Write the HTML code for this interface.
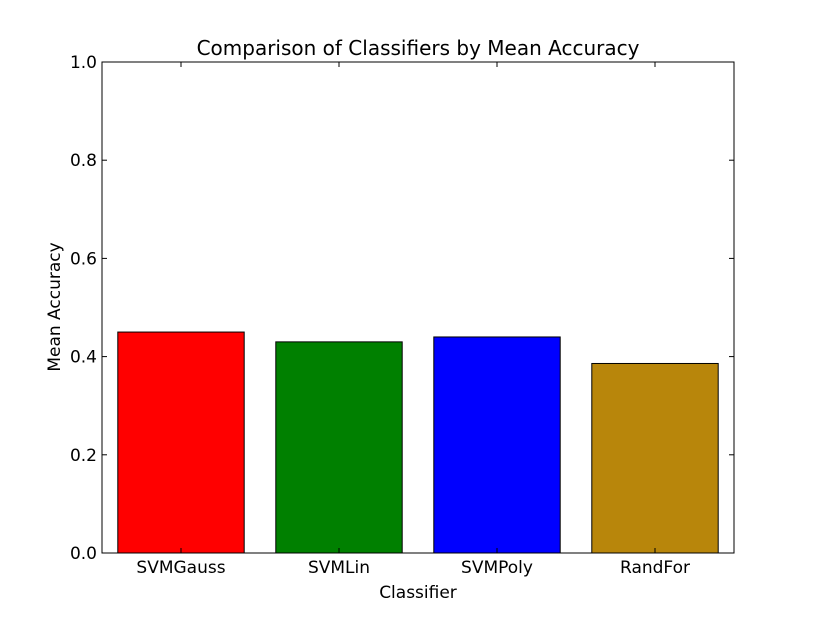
<!DOCTYPE html>
<html><head><meta charset="utf-8"><style>
body{margin:0;background:#fff;}
svg text{font-family:"DejaVu Sans","Liberation Sans",sans-serif;}
</style></head><body>
<svg id="chart" width="815" height="615" xmlns="http://www.w3.org/2000/svg">
<rect width="815" height="615" fill="#fff"/>
<g id="bars"></g>
<g id="axes"></g>
<text x="418" y="55" font-size="20" text-anchor="middle">Comparison of Classifiers by Mean Accuracy</text>
<text x="418" y="598" font-size="17" text-anchor="middle">Classifier</text>
<text x="60" y="307" font-size="17" text-anchor="middle" transform="rotate(-90 60 307)">Mean Accuracy</text>
</svg>
<script>
const categories = ["SVMGauss","SVMLin","SVMPoly","RandFor"];
const values = [0.450, 0.430, 0.440, 0.386];
const colors = ["#ff0000","#008000","#0000ff","#b8860b"];
const yTicks = [0.0,0.2,0.4,0.6,0.8,1.0];
const yTickLabels = ["0.0","0.2","0.4","0.6","0.8","1.0"];

const L=102,R=734,T=62,B=553;
const xs=v=>L+(v+0.5)/4*(R-L);
const ys=v=>B-v*(B-T);
const NS="http://www.w3.org/2000/svg";
function mk(tag,attrs,parent){const e=document.createElementNS(NS,tag);for(const k in attrs)e.setAttribute(k,attrs[k]);parent.appendChild(e);return e;}
const bars=document.getElementById('bars'), axes=document.getElementById('axes');
values.forEach((v,i)=>{
  const x0=xs(i-0.4),x1=xs(i+0.4);
  const r=mk('rect',{x:x0,y:ys(v),width:x1-x0,height:ys(0)-ys(v),fill:colors[i],stroke:"#000","stroke-width":1},bars);
  
  
});
const frame=mk('rect',{x:L,y:T,width:R-L,height:B-T,fill:"none",stroke:"#000","stroke-width":1},axes);


yTicks.forEach((t,i)=>{
  const y=ys(t);
  mk('line',{x1:L,x2:L+5,y1:y,y2:y,stroke:"#000"},axes);
  mk('line',{x1:R,x2:R-5,y1:y,y2:y,stroke:"#000"},axes);
  const tx=mk('text',{x:L-5,y:y+6,"font-size":17,"text-anchor":"end"},axes);
  tx.textContent=yTickLabels[i];
  
  
});
categories.forEach((c,i)=>{
  const x=xs(i);
  mk('line',{x1:x,x2:x,y1:B,y2:B-5,stroke:"#000"},axes);
  mk('line',{x1:x,x2:x,y1:T,y2:T+5,stroke:"#000"},axes);
  const tx=mk('text',{x:x,y:B+20,"font-size":17,"text-anchor":"middle"},axes);
  tx.textContent=c;
  
  
});
</script>
</body></html>
